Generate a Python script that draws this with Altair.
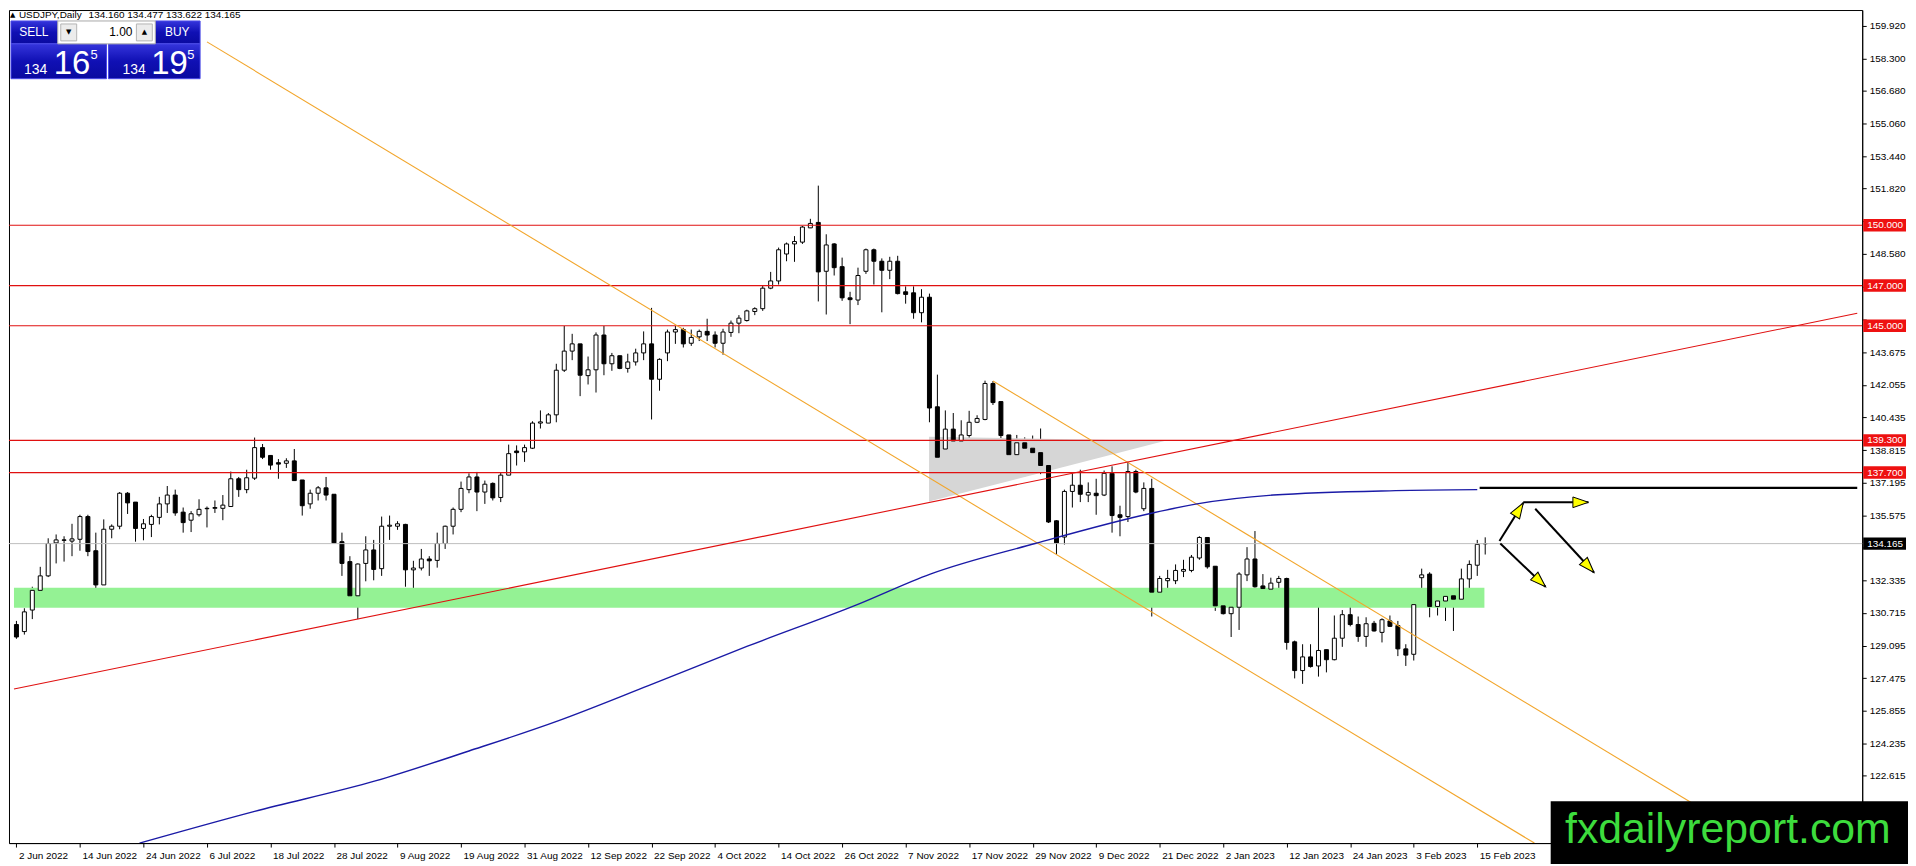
import math
import altair as alt
import pandas as pd

# ---------------- data ----------------
OPEN = [130.14,129.79,130.86,131.84,132.56,134.20,134.35,134.29,134.38,135.51,
        133.81,132.11,134.88,135.03,136.67,136.23,134.92,135.12,135.47,136.14,
        136.58,135.73,135.33,135.60,135.90,135.92,135.92,136.01,137.39,136.85,
        137.42,138.94,138.55,138.19,138.16,138.28,137.33,136.14,136.67,136.94,
        136.62,134.26,133.27,131.57,133.18,133.85,132.92,135.03,135.03,135.12,
        132.86,132.95,133.40,133.33,134.17,135.03,135.87,136.85,137.48,136.73,
        137.16,136.46,137.57,138.77,138.73,138.91,140.16,140.16,140.57,142.79,
        143.74,144.10,142.52,142.81,144.54,143.11,143.51,142.88,143.20,143.65,
        144.10,142.34,143.65,144.69,144.81,144.13,144.45,144.72,144.54,144.13,
        144.67,145.13,145.26,145.71,145.85,146.87,147.23,148.57,149.07,149.16,
        149.87,150.14,147.71,149.07,147.94,146.39,146.28,147.71,148.78,148.21,
        147.76,148.21,146.69,146.64,145.65,146.42,140.97,138.87,139.86,139.27,
        139.54,140.20,140.34,142.13,141.23,139.57,138.59,139.18,138.91,138.69,
        138.05,135.30,134.49,136.76,137.07,136.58,136.67,136.58,137.66,135.60,
        135.51,137.75,135.90,136.91,131.75,132.32,132.32,132.79,132.83,133.45,
        134.47,133.04,131.07,130.68,131.00,132.61,133.40,132.06,131.90,132.24,
        132.43,129.28,127.85,128.53,128.08,128.89,128.39,129.46,130.63,130.14,
        129.55,130.20,129.75,130.32,130.09,128.93,128.66,132.47,132.65,131.04,
        131.31,131.57,131.40,132.41,133.09,134.160]
HIGH = [130.32,130.95,132.02,133.01,134.43,134.62,134.53,135.15,135.60,135.60,
        134.71,135.37,135.12,136.73,136.73,136.23,135.39,135.60,136.49,137.03,
        136.85,135.96,135.78,136.37,136.01,136.31,136.58,137.75,137.48,137.84,
        139.44,139.12,138.55,138.37,138.41,138.87,137.33,136.85,137.03,137.48,
        136.62,134.71,133.54,133.18,134.53,134.35,135.51,135.56,135.28,135.15,
        133.31,133.90,133.54,134.71,135.06,135.96,137.25,137.66,137.73,137.30,
        137.21,137.69,139.09,139.05,139.09,140.25,140.79,140.66,143.11,144.99,
        144.60,144.10,143.47,144.67,144.99,143.65,143.51,143.61,143.86,144.72,
        145.89,143.38,144.81,144.99,144.90,144.81,144.81,145.35,144.72,144.85,
        145.26,145.53,145.80,145.92,146.99,147.68,148.89,149.14,149.46,149.96,
        150.32,151.97,149.55,149.11,148.39,146.69,147.89,148.84,148.84,148.35,
        148.43,148.48,146.96,146.96,146.82,146.60,142.57,140.79,140.66,140.30,
        140.77,140.55,142.27,142.25,141.23,139.57,139.57,139.45,139.54,139.89,
        138.10,135.33,136.85,137.66,137.84,137.21,137.39,137.80,138.01,136.05,
        138.23,137.84,137.21,137.39,132.56,132.86,133.13,133.36,133.60,134.53,
        134.47,133.04,131.13,131.40,132.74,133.99,134.79,132.65,132.47,132.56,
        132.47,129.34,129.16,129.16,131.61,128.89,130.59,130.86,131.13,130.54,
        130.50,130.32,130.45,130.59,130.32,129.16,131.16,132.92,132.74,131.48,
        131.84,131.66,132.92,133.33,134.35,134.477]
LOW = [129.43,129.64,130.41,131.79,132.50,133.18,133.27,133.54,133.81,133.54,
       131.40,132.11,134.43,134.88,135.64,134.26,134.33,134.49,135.12,135.69,
       135.55,134.71,134.74,135.51,134.97,135.69,135.33,136.01,136.49,136.67,
       137.33,138.37,137.84,137.39,137.93,137.30,135.56,135.90,136.31,136.31,
       134.17,132.56,131.57,130.41,132.29,132.34,132.56,134.35,134.85,132.02,
       131.72,132.83,132.56,132.97,133.90,134.62,135.73,136.67,135.78,136.14,
       136.31,136.23,137.57,138.05,138.23,138.87,139.89,140.16,140.20,142.70,
       143.29,141.50,142.08,141.68,142.54,142.76,142.84,142.67,143.02,143.29,
       140.34,141.77,143.24,144.10,143.92,144.00,144.24,144.24,143.92,143.56,
       144.45,144.63,145.21,145.53,145.74,146.82,147.05,148.21,148.18,149.07,
       149.86,146.21,145.56,147.50,146.24,145.08,146.03,147.58,147.05,145.67,
       147.32,146.56,146.10,145.35,145.17,140.20,138.46,138.87,137.69,138.69,
       138.91,140.16,140.30,141.06,139.27,138.05,138.37,137.51,137.87,137.62,
       135.19,133.63,134.12,135.96,136.23,136.23,135.60,136.53,134.71,134.53,
       135.24,136.67,135.78,130.54,131.48,131.61,132.15,132.50,132.74,133.36,
       132.92,130.82,130.64,129.52,129.87,132.30,131.97,131.36,131.40,131.93,
       128.89,127.46,127.19,128.00,127.55,127.76,128.36,129.03,130.05,129.28,
       129.03,129.79,129.25,130.02,128.57,128.08,128.35,131.48,130.50,130.59,
       130.32,129.82,131.31,131.54,132.56,133.622]
CLOSE = [129.52,130.77,131.84,132.56,134.17,134.35,134.33,134.40,135.51,133.77,
         132.11,134.88,135.03,136.67,136.19,134.92,135.15,135.51,136.14,136.58,
         135.69,135.21,135.65,135.87,135.92,135.96,136.08,137.39,136.85,137.44,
         138.94,138.46,138.07,138.12,138.28,137.30,136.05,136.67,136.94,136.58,
         134.20,133.18,131.57,133.15,133.85,132.88,135.03,135.08,135.15,132.86,
         132.95,133.40,133.31,134.17,135.03,135.87,136.91,137.48,136.73,137.12,
         136.44,137.57,138.64,138.69,138.94,140.16,140.22,140.57,142.79,143.74,
         144.10,142.54,142.81,144.54,143.11,143.51,142.88,143.20,143.65,144.10,
         142.34,143.33,144.69,144.81,144.10,144.42,144.72,144.54,144.13,144.69,
         145.13,145.38,145.74,145.85,146.87,147.23,148.78,149.07,149.19,149.91,
         150.09,147.68,149.02,147.89,146.39,146.30,147.50,148.78,148.21,147.76,
         148.21,146.60,146.56,145.65,146.42,140.91,138.46,139.86,139.27,139.57,
         140.20,140.39,142.13,141.18,139.54,138.59,139.18,138.91,138.69,138.05,
         135.24,134.20,136.76,137.07,136.62,136.71,136.55,137.66,135.56,135.47,
         137.75,136.73,136.91,131.75,132.43,132.43,132.83,132.88,133.49,134.47,
         133.01,131.07,130.68,131.00,132.65,133.40,132.02,131.93,132.20,132.43,
         129.25,127.85,128.53,128.05,128.85,128.39,129.46,130.63,130.14,129.55,
         130.18,129.82,130.38,130.05,128.93,128.62,131.13,132.61,131.04,131.31,
         131.54,131.40,132.41,133.13,134.13,134.165]

X_TICK_BARS = [0, 8, 16, 24, 32, 40, 48, 56, 64, 72, 80, 88, 96, 104, 112, 120,
               128, 136, 144, 152, 160, 168, 176, 184]
X_TICK_LABELS = ["2 Jun 2022", "14 Jun 2022", "24 Jun 2022", "6 Jul 2022", "18 Jul 2022",
                 "28 Jul 2022", "9 Aug 2022", "19 Aug 2022", "31 Aug 2022", "12 Sep 2022",
                 "22 Sep 2022", "4 Oct 2022", "14 Oct 2022", "26 Oct 2022", "7 Nov 2022",
                 "17 Nov 2022", "29 Nov 2022", "9 Dec 2022", "21 Dec 2022", "2 Jan 2023",
                 "12 Jan 2023", "24 Jan 2023", "3 Feb 2023", "15 Feb 2023"]
Y_TICKS = [159.920, 158.300, 156.680, 155.060, 153.440, 151.820, 150.200, 148.580,
           146.960, 145.305, 143.675, 142.055, 140.435, 138.815, 137.195, 135.575,
           133.955, 132.335, 130.715, 129.095, 127.475, 125.855, 124.235, 122.615]
# tick labels that sit underneath the price tags on the axis
Y_COVERED = [145.305, 133.955]

LEVELS = [150.0, 147.0, 145.0, 139.3, 137.7]
LEVEL_LABELS = ["150.000", "147.000", "145.000", "139.300", "137.700"]
LAST_PRICE = [134.165]
LAST_LABEL = ["134.165"]

MA_BARS = [15.5, 30.0, 45.2, 57.0, 68.3, 79.6, 92.0, 105.9, 115.1, 128.3, 143.1, 148.7,
           158.3, 173.7, 184.0]
MA_VALUES = [119.27, 120.85, 122.36, 123.85, 125.36, 127.10, 129.05, 131.13, 132.65,
             134.17, 135.69, 136.14, 136.58, 136.80, 136.85]

TREND_X0 = [24.0, 123.0, -0.31]
TREND_Y0 = [159.12, 142.25, 126.93]
TREND_X1 = [191.2, 219.4, 231.86]
TREND_Y1 = [119.27, 119.27, 145.62]
TREND_KIND = ["orange", "orange", "red"]

ZONE_X = [-0.31, 184.9]
ZONE_Y = [130.98, 131.97]

TRI_X = [114.95, 144.6]
TRI_TOP = [139.48, 139.27]
TRI_BOT = [136.26, 139.27]

HLINE_X = [184.3, 231.86]
HLINE_Y = [136.94]

ARROW_X0 = [186.8, 189.8, 186.9, 191.3]
ARROW_Y0 = [134.29, 136.22, 134.17, 135.90]
ARROW_X1 = [189.8, 198.0, 192.6, 198.7]
ARROW_Y1 = [136.19, 136.22, 132.02, 132.73]

# ---------------- layout / style ----------------
W, H = 1862, 837
X_DOMAIN = [-0.31, 231.86]
Y_DOMAIN = [119.27, 160.705]
XS = alt.Scale(domain=X_DOMAIN, nice=False, zero=False)
YS = alt.Scale(domain=Y_DOMAIN, nice=False, zero=False)
RED = "#e01010"
ORANGE = "#f2a52a"
BLUE = "#1a1aa6"
FONT = "Liberation Sans"

labels_js = "[" + ",".join("'%s'" % s for s in X_TICK_LABELS) + "]"
covered_js = "[" + ",".join(repr(v) for v in Y_COVERED) + "]"
x_axis = alt.Axis(values=X_TICK_BARS, labelExpr=labels_js + "[round(datum.value / 8)]",
                  title=None, grid=False, labelAlign="left", labelOffset=2, labelPadding=3,
                  tickSize=4, tickColor="black", domainColor="black", labelColor="black",
                  labelFont="Liberation Sans Narrow, Liberation Sans", labelFontSize=10,
                  labelFlush=False, labelOverlap=False)
y_axis = alt.Axis(orient="right", values=Y_TICKS, title=None, grid=False,
                  labelExpr="indexof(" + covered_js + ", datum.value) >= 0 ? '' : format(datum.value, '.3f')",
                  tickSize=4, labelPadding=3, labelFont=FONT, labelFontSize=10,
                  labelColor="black", tickColor="black", domainColor="black",
                  labelOverlap=False, labelFlush=False)


def X(f):
    return alt.X(f, scale=XS, axis=x_axis)


def Y(f):
    return alt.Y(f, scale=YS, axis=y_axis)


df = pd.DataFrame({"bar": list(range(len(OPEN))), "open": OPEN, "high": HIGH,
                   "low": LOW, "close": CLOSE})
df["hi"] = df[["high", "open", "close"]].max(axis=1)
df["lo"] = df[["low", "open", "close"]].min(axis=1)

wicks = alt.Chart(df).mark_rule(color="black", strokeWidth=1).encode(
    x=X("bar:Q"), y=Y("lo:Q"), y2="hi:Q")
bodies = alt.Chart(df).mark_bar(size=4, stroke="black", strokeWidth=1).encode(
    x=X("bar:Q"), y=Y("open:Q"), y2="close:Q",
    fill=alt.condition("datum.close >= datum.open", alt.value("white"), alt.value("black")))

zone = alt.Chart(pd.DataFrame({"x0": [ZONE_X[0]], "x1": [ZONE_X[1]],
                               "y0": [ZONE_Y[0]], "y1": [ZONE_Y[1]]})).mark_rect(
    color="#94f294").encode(x=X("x0:Q"), x2="x1:Q", y=Y("y0:Q"), y2="y1:Q")

tri = alt.Chart(pd.DataFrame({"x": TRI_X, "top": TRI_TOP, "bot": TRI_BOT})).mark_area(
    color="#d6d6d6", opacity=1).encode(x=X("x:Q"), y=Y("top:Q"), y2="bot:Q")

lv = pd.DataFrame({"price": LEVELS, "label": LEVEL_LABELS})
level_lines = alt.Chart(lv).mark_rule(color=RED, strokeWidth=1.2).encode(y=Y("price:Q"))

cur = pd.DataFrame({"price": LAST_PRICE, "label": LAST_LABEL})
cur_line = alt.Chart(cur).mark_rule(color="#bdbdbd", strokeWidth=1).encode(y=Y("price:Q"))

tr = pd.DataFrame({"x0": TREND_X0, "y0": TREND_Y0, "x1": TREND_X1, "y1": TREND_Y1,
                   "kind": TREND_KIND})
trends = alt.Chart(tr).mark_rule(strokeWidth=1.1, clip=True).encode(
    x=X("x0:Q"), x2="x1:Q", y=Y("y0:Q"), y2="y1:Q",
    color=alt.Color("kind:N", scale=alt.Scale(domain=["orange", "red"], range=[ORANGE, RED]),
                    legend=None))

ma = alt.Chart(pd.DataFrame({"bar": MA_BARS, "v": MA_VALUES})).mark_line(
    color=BLUE, strokeWidth=1.4, clip=True, interpolate="monotone").encode(
    x=X("bar:Q"), y=Y("v:Q"))

hline = alt.Chart(pd.DataFrame({"x0": [HLINE_X[0]], "x1": [HLINE_X[1]], "y": HLINE_Y})).mark_rule(
    color="black", strokeWidth=2.2).encode(x=X("x0:Q"), x2="x1:Q", y=Y("y:Q"))

px_bar = W / (X_DOMAIN[1] - X_DOMAIN[0])
px_unit = H / (Y_DOMAIN[1] - Y_DOMAIN[0])
angles = []
for a, b, c, d in zip(ARROW_X0, ARROW_Y0, ARROW_X1, ARROW_Y1):
    angles.append(math.degrees(math.atan2((c - a) * px_bar, (d - b) * px_unit)) % 360)
ar = pd.DataFrame({"x0": ARROW_X0, "y0": ARROW_Y0, "x1": ARROW_X1, "y1": ARROW_Y1,
                   "angle": angles})
shafts = alt.Chart(ar).mark_rule(color="black", strokeWidth=2).encode(
    x=X("x0:Q"), x2="x1:Q", y=Y("y0:Q"), y2="y1:Q")
heads = alt.Chart(ar).mark_point(shape="M0,0 L0.55,1.6 L-0.55,1.6 Z", filled=True,
                                 fill="#ffff00", stroke="black", strokeWidth=1,
                                 size=380, opacity=1).encode(
    x=X("x1:Q"), y=Y("y1:Q"), angle=alt.Angle("angle:Q", scale=None))


def axis_tag(data, fill):
    box = alt.Chart(data).transform_calculate(
        top="datum.price + 0.31", bot="datum.price - 0.31").mark_rect(color=fill).encode(
        x=alt.value(W + 1), x2=alt.value(W + 44), y=Y("top:Q"), y2="bot:Q")
    txt = alt.Chart(data).mark_text(align="left", baseline="middle", color="white",
                                    font=FONT, fontSize=10).encode(
        x=alt.value(W + 5), y=Y("price:Q"), text="label:N")
    return box + txt


tags = axis_tag(lv, "#ee1111") + axis_tag(cur, "black")


# ---------------- top-left trade panel, header, watermark (pixel overlay) ----------------
def px_rects(rows, **mark):
    d = pd.DataFrame(rows, columns=["x", "x2", "y", "y2"])
    return alt.Chart(d).mark_rect(**mark).encode(
        x=alt.X("x:Q", scale=None), x2="x2:Q",
        y=alt.Y("y:Q", scale=None), y2="y2:Q")


def px_text(rows, **mark):
    d = pd.DataFrame(rows, columns=["x", "y", "t"])
    return alt.Chart(d).mark_text(**mark).encode(
        x=alt.X("x:Q", scale=None), y=alt.Y("y:Q", scale=None), text="t:N")


blue_grad = alt.Gradient(gradient="linear",
                         stops=[alt.GradientStop(color="#3535dc", offset=0),
                                alt.GradientStop(color="#1010b4", offset=0.5),
                                alt.GradientStop(color="#0a0aa0", offset=1)],
                         x1=0, x2=0, y1=0, y2=1)
panel = (
    px_rects([(2, 49, 11, 34), (147, 192, 11, 34), (2, 98, 34, 69), (100, 192, 34, 69)],
             fill=blue_grad, stroke="#4a4ae8", strokeWidth=1)
    + px_rects([(49, 147, 11, 34)], fill="white", stroke="#a8a8a8", strokeWidth=1)
    + px_rects([(52, 68, 14, 31), (128, 144, 14, 31)], fill="#ececec", stroke="#b4b4b4",
               strokeWidth=1)
    + px_text([(25, 22.5, "SELL"), (169, 22.5, "BUY")], align="center", baseline="middle",
              color="white", font=FONT, fontSize=12)
    + px_text([(60, 22.5, "▼"), (136, 22.5, "▲")], align="center", baseline="middle",
              color="black", font="DejaVu Sans", fontSize=7)
    + px_text([(124, 22.5, "1.00")], align="right", baseline="middle", color="black",
              font=FONT, fontSize=12)
    + px_text([(15, 64, "134"), (114, 64, "134")], align="left", baseline="alphabetic",
              color="white", font=FONT, fontSize=14)
    + px_text([(45, 64, "16"), (143, 64, "19")], align="left", baseline="alphabetic",
              color="white", font=FONT, fontSize=33)
    + px_text([(82, 49, "5"), (179, 49, "5")], align="left", baseline="alphabetic",
              color="white", font=FONT, fontSize=13)
)
header = (
    px_text([(1, 5, "▲")], align="left", baseline="middle", color="black",
            font="DejaVu Sans", fontSize=7)
    + px_text([(10, 5, "USDJPY,Daily"), (80, 5, "134.160 134.477 133.622 134.165")],
              align="left", baseline="middle", color="black", font=FONT, fontSize=10)
)

watermark = (
    px_rects([(1549, 1908, 795, 858)], fill="black")
    + px_text([(1727, 837, "fxdailyreport.com")], align="center", baseline="alphabetic",
              color="#3ddc3d", font=FONT, fontSize=43)
)

chart = alt.layer(
    wicks, zone, tri, bodies, level_lines, cur_line, trends, ma, hline, shafts, heads,
    tags, panel, header, watermark
).properties(
    width=W, height=H, padding={"left": 0, "top": 0, "right": 0, "bottom": 0},
    background="white"
).configure_view(stroke="black", strokeWidth=1)

chart.save("out.html", embed_options={"renderer": "svg", "actions": False})
